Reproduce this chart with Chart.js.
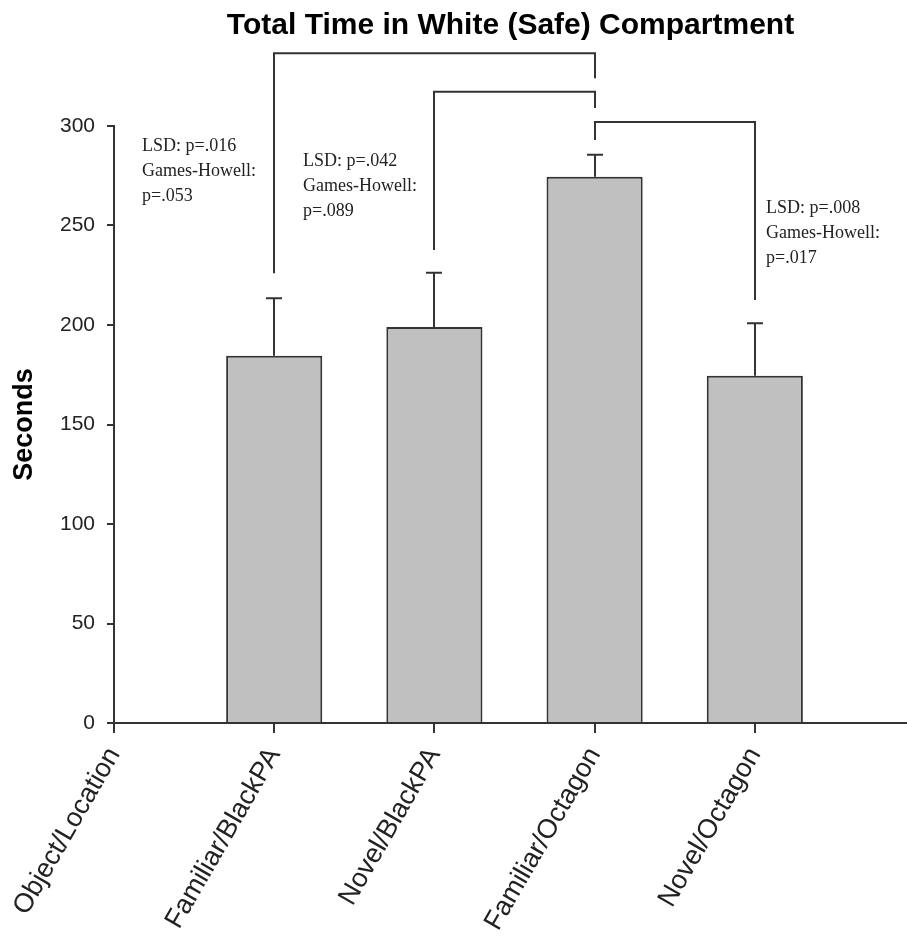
<!DOCTYPE html>
<html><head><meta charset="utf-8">
<script src="https://cdn.jsdelivr.net/npm/chart.js@4/dist/chart.umd.min.js"></script>
<style>html,body{margin:0;padding:0;background:#fff}#wrap{width:907px;height:940px;position:relative}</style>
</head><body><div id="wrap"><canvas id="c"></canvas></div>
<script>
const categories = ['Object/Location', 'Familiar/BlackPA', 'Novel/BlackPA', 'Familiar/Octagon', 'Novel/Octagon'];
const meanSeconds = [null, 184.5, 199, 274.5, 174.5];
const upperError = [null, 29, 27.3, 11, 26.4];
const yTicks = [0, 50, 100, 150, 200, 250, 300];

// significance brackets (category indices and heights in seconds)
const bracketFrom = [1, 2, 3];
const bracketTo = [3, 3, 4];
const bracketTop = [336.5, 317.2, 302];
const bracketFromEnd = [226, 237.7, 293];
const bracketToEnd = [324, 309, 212.6];
const noteLines = [
  ['LSD: p=.016', 'Games-Howell:', 'p=.053'],
  ['LSD: p=.042', 'Games-Howell:', 'p=.089'],
  ['LSD: p=.008', 'Games-Howell:', 'p=.017']
];
const noteX = [0.175, 1.18, 4.07];
const noteY = [287.4, 279.9, 256.3];

Chart.defaults.font.family = '"Liberation Sans", Arial, sans-serif';

const annot = {
  id: 'annot',
  afterDatasetsDraw(chart) {
    const {ctx, scales: {x, y}} = chart;
    ctx.save();
    ctx.strokeStyle = '#333';
    ctx.lineWidth = 2;
    meanSeconds.forEach((m, i) => {
      if (m == null) return;
      const px = Math.round(x.getPixelForValue(i));
      const y0 = y.getPixelForValue(m), y1 = y.getPixelForValue(m + upperError[i]);
      ctx.beginPath();
      ctx.moveTo(px, y0); ctx.lineTo(px, y1);
      ctx.moveTo(px - 8, y1); ctx.lineTo(px + 8, y1);
      ctx.stroke();
    });
    bracketFrom.forEach((f, k) => {
      const xa = Math.round(x.getPixelForValue(f)), xb = Math.round(x.getPixelForValue(bracketTo[k]));
      const yt = y.getPixelForValue(bracketTop[k]);
      ctx.beginPath();
      ctx.moveTo(xa, y.getPixelForValue(bracketFromEnd[k]));
      ctx.lineTo(xa, yt);
      ctx.lineTo(xb, yt);
      ctx.lineTo(xb, y.getPixelForValue(bracketToEnd[k]));
      ctx.stroke();
    });
    ctx.font = '18px "Liberation Serif", "Times New Roman", serif';
    ctx.fillStyle = '#222';
    ctx.textBaseline = 'alphabetic';
    ctx.textAlign = 'left';
    noteLines.forEach((lines, k) => {
      const px = x.getPixelForValue(noteX[k]);
      const py = y.getPixelForValue(noteY[k]);
      lines.forEach((t, j) => ctx.fillText(t, px, py + j * 25));
    });
    ctx.restore();
  }
};

new Chart(document.getElementById('c'), {
  type: 'bar',
  data: {
    datasets: [{
      data: categories.map((c, i) => ({x: i, y: meanSeconds[i]})).filter(p => p.y != null),
      backgroundColor: '#c0c0c0',
      borderColor: '#333',
      borderWidth: 2,
      barPercentage: 0.6,
      categoryPercentage: 1
    }]
  },
  options: {
    responsive: true,
    maintainAspectRatio: false,
    animation: false,
    layout: {padding: 0},
    plugins: {
      legend: {display: false},
      tooltip: {enabled: false},
      title: {
        display: true,
        text: 'Total Time in White (Safe) Compartment',
        color: '#000',
        font: {size: 30, weight: 'bold'},
        fullSize: false,
        padding: {top: 8, bottom: 82}
      }
    },
    scales: {
      x: {
        type: 'linear', min: 0, max: 4.95, bounds: 'data', offset: false,
        afterBuildTicks: s => { s.ticks = categories.map((c, i) => ({value: i})); },
        ticks: {
          autoSkip: false, minRotation: 60, maxRotation: 60, color: '#222',
          font: {size: 27}, padding: 9,
          callback: v => categories[v]
        },
        grid: {offset: false, drawOnChartArea: false, drawTicks: true, tickLength: 10, color: '#333', lineWidth: 2},
        border: {display: true, color: '#333', width: 2},
        afterFit: s => { s.height = 217; }
      },
      y: {
        min: 0, max: 300,
        afterBuildTicks: s => { s.ticks = yTicks.map(v => ({value: v})); },
        ticks: {color: '#222', font: {size: 21}, padding: 12},
        grid: {drawOnChartArea: false, drawTicks: true, tickLength: 7, color: '#333', lineWidth: 2},
        border: {display: true, color: '#333', width: 2},
        title: {display: true, text: 'Seconds', color: '#000', font: {size: 27, weight: 'bold'}, padding: {top: 8, bottom: 0}},
        afterFit: s => { s.width = 114; }
      }
    }
  },
  plugins: [annot]
});
</script>
</body></html>
